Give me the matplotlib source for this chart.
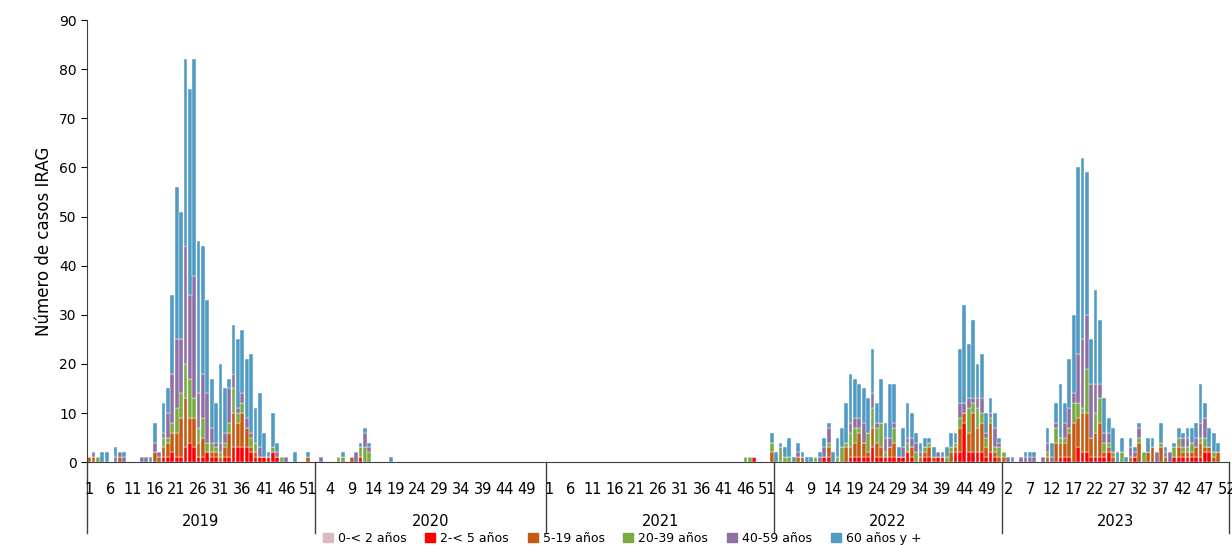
import numpy as np
from matplotlib import pyplot as plt
from matplotlib.patches import Patch

# slot index (consecutive weeks from 2019 w1), then 2-<5, 5-19, 20-39, 40-59, 60+
rows_2019 = [
    (0, 0,1,0,0,0), (1, 0,1,0,1,0), (2, 0,0,1,0,0), (3, 0,0,0,0,2), (4, 0,0,0,0,2),
    (6, 0,0,0,1,2), (7, 0,1,0,1,0), (8, 0,0,0,1,1), (12, 0,0,0,1,0), (13, 0,0,0,1,0),
    (14, 0,0,0,0,1), (15, 0,2,0,2,4), (16, 0,1,0,1,0), (17, 1,2,2,1,6), (18, 1,3,1,5,5),
    (19, 2,4,2,10,16), (20, 1,5,5,14,31), (21, 1,8,5,11,26), (22, 3,10,7,24,38),
    (23, 4,5,8,17,42), (24, 3,6,4,25,44), (25, 1,3,3,7,31), (26, 1,4,4,9,26),
    (27, 2,0,2,10,19), (28, 1,1,2,3,10), (29, 1,1,1,1,8), (30, 0,1,1,2,16),
    (31, 1,2,1,2,9), (32, 1,5,2,7,2), (33, 3,7,5,3,10), (34, 3,5,2,1,14),
    (35, 3,7,2,2,13), (36, 3,4,0,2,12), (37, 2,1,2,1,16), (38, 1,1,2,0,7),
    (39, 1,0,0,2,11), (40, 1,0,0,0,5), (41, 1,0,0,0,1), (42, 2,0,1,0,7),
    (43, 1,0,0,1,2), (44, 0,0,1,0,0), (45, 0,0,0,1,0), (47, 0,0,0,0,2), (50, 0,1,0,0,1),
]
rows_2020 = [
    (53, 0,0,0,1,0), (57, 0,0,1,0,0), (58, 0,0,1,0,1), (60, 0,1,0,0,0), (61, 0,0,0,2,0),
    (62, 1,0,2,0,1), (63, 0,0,3,3,1), (64, 0,0,2,1,1), (69, 0,0,0,0,1),
]
rows_2021 = [(150, 0,0,1,0,0), (151, 0,0,1,0,0), (152, 1,0,0,0,0), (156, 0,2,2,0,2)]
rows_2022 = [
    (157, 0,0,0,0,2), (158, 0,0,3,0,1), (159, 0,0,1,0,2), (160, 0,0,1,0,4), (161, 0,0,0,0,1),
    (162, 0,1,0,1,2), (163, 0,1,0,0,1), (164, 0,0,0,0,1), (165, 0,0,0,0,1), (166, 0,0,1,0,0),
    (167, 0,0,0,1,1), (168, 1,0,0,2,2), (169, 1,2,1,3,1), (170, 0,0,0,0,2), (171, 0,0,1,0,4),
    (172, 0,0,3,0,4), (173, 0,3,1,0,8), (174, 1,2,3,2,10), (175, 1,3,3,2,8), (176, 1,5,1,2,7),
    (177, 1,3,0,4,7), (178, 1,1,4,0,7), (179, 3,4,4,3,9), (180, 1,3,3,1,4), (181, 1,2,5,0,9),
    (182, 1,0,1,3,3), (183, 1,2,0,2,11), (184, 1,3,3,1,8), (185, 1,0,0,0,2), (186, 1,0,0,2,4),
    (187, 2,0,2,1,7), (188, 1,2,0,2,5), (189, 0,0,2,2,2), (190, 0,1,0,1,2), (191, 1,1,1,0,2),
    (192, 1,2,1,0,1), (193, 0,1,0,0,2), (194, 1,0,0,1,0), (195, 1,0,0,0,1), (196, 0,0,1,0,2),
    (197, 0,2,1,0,3), (198, 2,1,1,0,2), (199, 2,5,2,3,11), (200, 8,2,0,2,20), (201, 2,4,5,2,11),
    (202, 2,8,2,1,16), (203, 2,5,4,2,7), (204, 2,6,2,3,9), (205, 1,2,2,1,4), (206, 2,6,1,1,3),
    (207, 1,1,1,4,3), (208, 0,1,2,1,1),
]
rows_2023 = [
    (209, 0,1,1,0,0), (210, 0,0,0,1,0), (211, 0,0,0,0,1), (213, 0,0,0,1,0), (214, 0,0,0,1,1),
    (215, 0,0,0,1,1), (216, 0,0,0,1,1), (218, 0,0,0,1,0), (219, 0,1,1,2,3), (220, 0,0,0,1,3),
    (221, 0,4,3,1,4), (222, 1,3,1,0,11), (223, 1,3,1,3,4), (224, 1,5,1,4,10), (225, 0,8,4,2,16),
    (226, 3,6,3,10,38), (227, 2,8,1,14,37), (228, 2,8,9,11,29), (229, 1,4,0,11,9),
    (230, 1,5,4,6,19), (231, 1,7,5,3,13), (232, 1,1,2,2,7), (233, 2,1,1,2,3), (234, 0,1,1,0,5),
    (235, 0,0,0,0,2), (236, 0,0,2,0,3), (237, 0,0,0,0,1), (238, 0,1,0,2,2), (239, 1,0,0,1,1),
    (240, 0,4,1,2,1), (241, 0,0,2,0,0), (242, 0,2,0,0,3), (243, 0,3,0,0,2), (244, 0,0,0,2,0),
    (245, 0,3,1,0,4), (246, 0,1,0,1,1), (247, 0,0,0,2,0), (248, 1,0,2,0,1), (249, 1,2,2,0,2),
    (250, 1,1,1,2,1), (251, 1,1,1,2,2), (252, 1,1,2,0,3), (253, 1,2,0,2,3), (254, 1,3,1,3,8),
    (255, 2,1,2,4,3), (256, 2,1,0,0,4), (257, 0,1,1,0,4), (258, 0,2,0,0,2),
]

years = ['2019', '2020', '2021', '2022', '2023']
weeks_per_year = [52, 53, 52, 52, 52]
groups = ['0-< 2 años', '2-< 5 años', '5-19 años', '20-39 años', '40-59 años', '60 años y +']
colors = ['#dcb8bc', '#ff0000', '#c55a11', '#7aab43', '#8e70a6', '#4f9bc3']

n = sum(weeks_per_year)
vals = np.zeros((6, n))
for r in rows_2019 + rows_2020 + rows_2021 + rows_2022 + rows_2023:
    vals[1:, r[0]] = r[1:]

week_labels = []
for w in weeks_per_year:
    week_labels += list(range(1, w + 1))

fig = plt.figure(figsize=(12.32, 5.45), dpi=100)
ax = fig.add_axes([0.0706, 0.152, 0.927, 0.811])
x = np.arange(n)
bottom = np.zeros(n)
for i in range(6):
    ax.bar(x, vals[i], bottom=bottom, width=0.85, color=colors[i], edgecolor='white', linewidth=0.3)
    bottom += vals[i]

ax.set_xlim(-0.5, n - 0.5)
ax.set_ylim(0, 90)
ax.set_yticks(range(0, 91, 10))
ax.tick_params(axis='y', labelsize=10, length=4)
ax.set_ylabel('Número de casos IRAG', fontsize=12)
ax.spines['top'].set_visible(False)
ax.spines['right'].set_visible(False)
ax.set_xticks([])
ax.spines['left'].set_color('#404040')
ax.spines['bottom'].set_color('#404040')

trans = ax.get_xaxis_transform()
for i in range(0, n, 5):
    ax.text(i, -0.045, str(week_labels[i]), transform=trans, ha='center', va='top', fontsize=10.5)
edges = np.concatenate([[0], np.cumsum(weeks_per_year)]) - 0.5
for e in edges:
    ax.plot([e, e], [0, -0.16], transform=trans, color='#404040', lw=1, clip_on=False)
for k, y in enumerate(years):
    ax.text((edges[k] + edges[k + 1]) / 2, -0.118, y, transform=trans, ha='center', va='top', fontsize=10.5)

handles = [Patch(color=c) for c in colors]
fig.legend(handles, groups, loc='lower center', bbox_to_anchor=(0.505, -0.02), ncol=6,
           frameon=False, fontsize=9, handlelength=0.8, handleheight=0.8, columnspacing=1.5, handletextpad=0.4)

fig.savefig('out.png', dpi=100)
